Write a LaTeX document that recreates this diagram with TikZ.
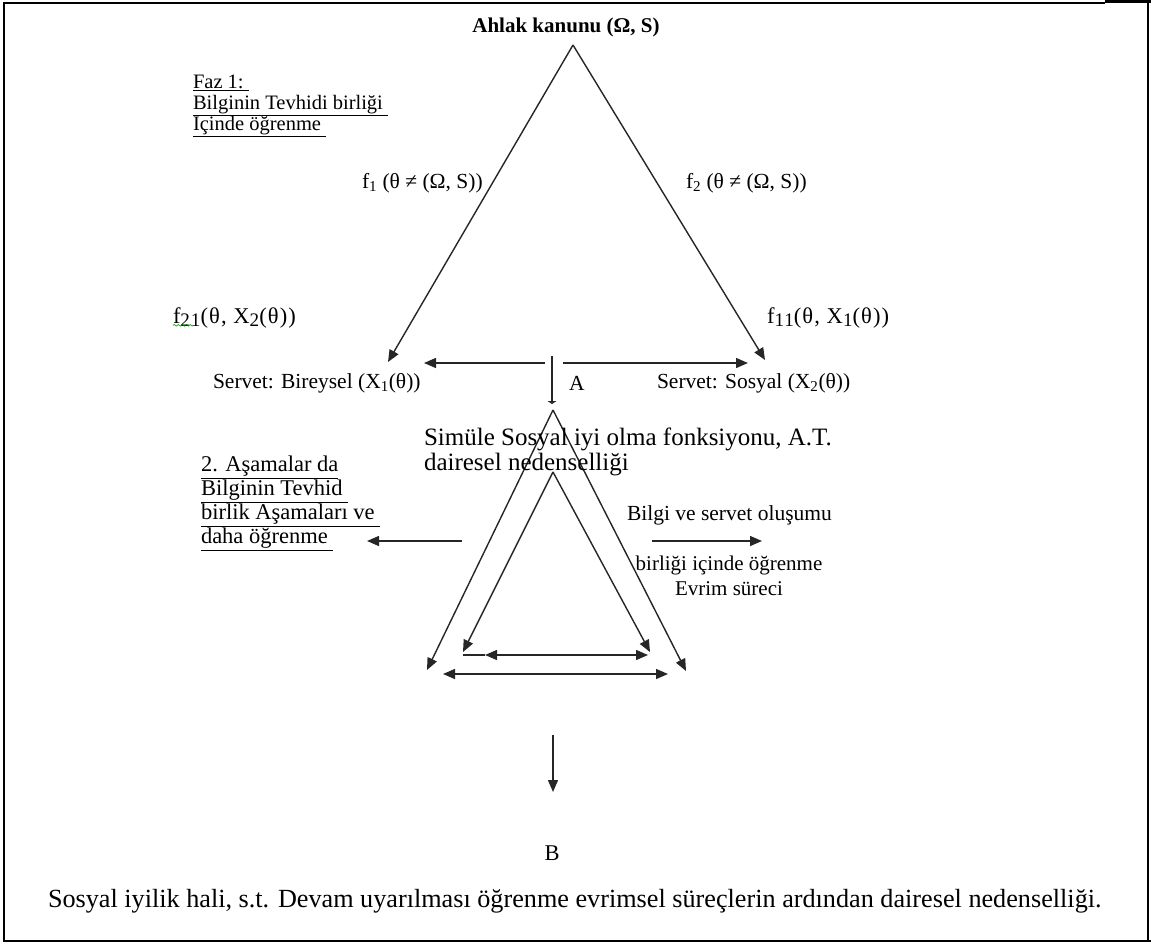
\documentclass[tikz,border=0pt]{standalone}
\usepackage{fontspec}
\usepackage{graphicx}
\setmainfont{Liberation Serif}
\usetikzlibrary{arrows.meta,decorations.pathmorphing}
% lowered index, a little larger than the default subscript
\newcommand{\lowidx}[1]{\raisebox{-0.3ex}{\scalebox{0.85}{#1}}}
\begin{document}
\begin{tikzpicture}[x=1pt,y=-1pt,
  every node/.style={inner sep=0pt,outer sep=0pt},
  lbl/.style={font=\fontsize{21.5}{24}\selectfont,anchor=west},
  flbl/.style={font=\fontsize{22.5}{24}\selectfont\addfontfeature{LetterSpace=5},anchor=west},
  small/.style={font=\fontsize{20.5}{21}\selectfont,anchor=north west,align=left},
  mid/.style={font=\fontsize{22.5}{24}\selectfont,anchor=north west,align=left},
  big/.style={font=\fontsize{25}{25}\selectfont,anchor=north west,align=left},
  ln/.style={line width=1.4pt,draw=black!85},
  tip/.style={ln,-{Triangle[length=12pt,width=10pt]}},
  both/.style={ln,{Triangle[length=12pt,width=10pt]}-{Triangle[length=12pt,width=10pt]}},
  frame/.style={line width=1.4pt,draw=black}
]
\useasboundingbox (0,0) rectangle (1151,944);

% page frame
\draw[frame] (1105,3) -- (4,3) -- (4,941) -- (1151,941);
\draw[frame] (1148,3) -- (1148,941);
\draw[line width=3pt] (1105,2) -- (1151,2);

% ---------- first stage ----------
\node[font=\fontsize{21}{24}\selectfont\bfseries] (title) at (566,27) {Ahlak kanunu (Ω, S)};
\coordinate (apex) at (573,45);
\coordinate (wl) at (388,362);
\coordinate (wr) at (765,360);
\draw[tip] (apex) -- (wl);
\draw[tip] (apex) -- (wr);

\node[small] (faz) at (193,75) {\underline{Faz 1:\ }\\
  \underline{Bilginin Tevhidi birliği\ }\\
  \underline{Içinde öğrenme\ }};

\node[lbl] (f1) at (362,183) {f\textsubscript{1} (θ ≠ (Ω, S))};
\node[lbl] (f2) at (686,183) {f\textsubscript{2} (θ ≠ (Ω, S))};
\node[flbl] (f21) at (173,318) {f\lowidx{21}(θ, X\lowidx{2}(θ))};
\draw[green!55!black,line width=0.6pt,decorate,
  decoration={snake,amplitude=0.8pt,segment length=4pt}]
  ([yshift=3pt]f21.south west) -- ++(22,0);
\node[flbl] (f11) at (767,318) {f\lowidx{11}(θ, X\lowidx{1}(θ))};

\node[lbl] (sb) at (213,383) {Servet: Bireysel (X\textsubscript{1}(θ))};
\node[lbl] (ss) at (657,383) {Servet: Sosyal (X\textsubscript{2}(θ))};
\node[lbl] (A) at (569,383) {A};

\coordinate (hl0) at (545,363);
\coordinate (hl1) at (424,363);
\coordinate (hr0) at (563,363);
\coordinate (hr1) at (748,363);
\draw[tip] (hl0) -- (hl1);
\draw[tip] (hr0) -- (hr1);
\coordinate (v0) at (552,356);
\coordinate (v1) at (552,404);
\draw[ln,-{Triangle[length=3pt,width=9pt]}] (v0) -- (v1);

% ---------- second stage ----------
\coordinate (oa) at (553,410);
\coordinate (ol) at (427,670);
\coordinate (or) at (686,671);
\coordinate (ia) at (553,472);
\coordinate (il) at (463,652);
\coordinate (ir) at (650,652);
\draw[tip] (oa) -- (ol);
\draw[tip] (oa) -- (or);
\draw[tip] (ia) -- (il);
\draw[tip] (ia) -- (ir);

\coordinate (ih0) at (463,655);
\coordinate (ih1) at (485,655);
\coordinate (ih2) at (648,655);
\draw[ln] (ih0) -- (ih1);
\draw[both] (ih1) -- (ih2);
\coordinate (oh1) at (443,674);
\coordinate (oh2) at (668,674);
\draw[both] (oh1) -- (oh2);

\node[big] (sim) at (424,428) {Simüle Sosyal iyi olma fonksiyonu, A.T.\\dairesel nedenselliği};

\node[mid] (asm) at (201,456) {\underline{2. Aşamalar da}\\
  \underline{Bilginin Tevhid\ }\\
  \underline{birlik Aşamaları ve\ }\\
  \underline{daha öğrenme\ }};
\coordinate (al0) at (462,541);
\coordinate (al1) at (367,541);
\draw[tip] (al0) -- (al1);

\node[lbl] (bs) at (627,515) {Bilgi ve servet oluşumu};
\coordinate (ar0) at (652,541);
\coordinate (ar1) at (762,541);
\draw[tip] (ar0) -- (ar1);
\node[font=\fontsize{21}{25}\selectfont,align=center] (ev) at (729,576) {birliği içinde öğrenme\\Evrim süreci};

% ---------- outcome ----------
\coordinate (d0) at (553,735);
\coordinate (d1) at (553,792);
\draw[tip] (d0) -- (d1);
\node[font=\fontsize{22.5}{24}\selectfont] (B) at (552,853) {B};
\node[font=\fontsize{26.2}{27}\selectfont,anchor=west] (res) at (48,901)
  {Sosyal iyilik hali, s.t. Devam uyarılması öğrenme evrimsel süreçlerin ardından dairesel nedenselliği.};
\end{tikzpicture}
\end{document}
